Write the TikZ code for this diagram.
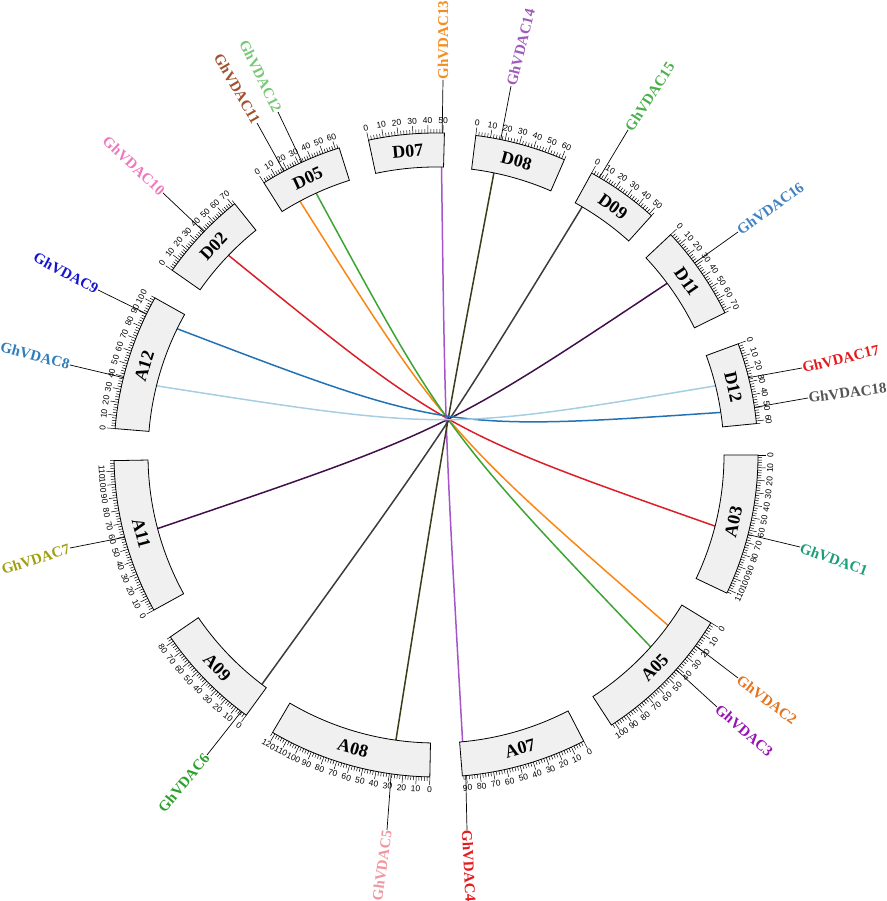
\documentclass[tikz,border=0pt]{standalone}
\usepackage{fontspec}
\setmainfont{Liberation Serif}
\setsansfont{Liberation Sans}
\definecolor{boxfill}{RGB}{240,240,240}
\definecolor{gc1}{RGB}{27,158,119}
\definecolor{gc2}{RGB}{230,115,30}
\definecolor{gc3}{RGB}{150,20,180}
\definecolor{gc4}{RGB}{228,26,28}
\definecolor{gc5}{RGB}{240,150,160}
\definecolor{gc6}{RGB}{44,160,44}
\definecolor{gc7}{RGB}{160,160,20}
\definecolor{gc8}{RGB}{45,125,190}
\definecolor{gc9}{RGB}{20,20,210}
\definecolor{gc10}{RGB}{240,120,190}
\definecolor{gc11}{RGB}{160,82,45}
\definecolor{gc12}{RGB}{120,200,120}
\definecolor{gc13}{RGB}{245,140,30}
\definecolor{gc14}{RGB}{160,90,190}
\definecolor{gc15}{RGB}{75,175,75}
\definecolor{gc16}{RGB}{65,130,195}
\definecolor{gc17}{RGB}{228,26,28}
\definecolor{gc18}{RGB}{85,85,85}
\definecolor{lkred}{RGB}{220,30,40}
\definecolor{lkorange}{RGB}{250,135,20}
\definecolor{lkgreen}{RGB}{60,165,50}
\definecolor{lkpurple}{RGB}{165,85,200}
\definecolor{lkolive}{RGB}{60,60,25}
\definecolor{lkgray}{RGB}{60,60,60}
\definecolor{lkdpurple}{RGB}{65,15,75}
\definecolor{lkblue}{RGB}{35,115,180}
\definecolor{lklblue}{RGB}{166,206,227}
\begin{document}
\begin{tikzpicture}[x=1pt,y=1pt,
  chrbox/.style={draw=black, line width=0.8pt, fill=boxfill},
  tickline/.style={line width=0.5pt},
  ticklab/.style={font=\sffamily\fontsize{8.5}{8.5}\selectfont, inner sep=0.3pt},
  chrname/.style={font=\bfseries\fontsize{18}{18}\selectfont, inner sep=0pt},
  genelab/.style={font=\bfseries\fontsize{15}{15}\selectfont, inner sep=0.5pt},
  markline/.style={line width=0.7pt},
  link/.style={line width=1.5pt}]
\useasboundingbox (0,0) rectangle (886,901);
\coordinate (O) at (436,446);
\begin{scope}[shift={(O)}]
\coordinate (C) at (9,24);
% gene anchors
\foreach \i/\ang/\lx/\ly/\rot/\anc in {
  1/-14.3/800/354/-20/west,
  2/-36.3/738/223/-37/west,
  3/-41.8/717/194/-41/west,
  4/-84.7/467/71/-87/west,
  5/-98.0/387/71/82/east,
  6/-127.2/207/146/50/east,
  7/-165.2/70/353/18/east,
  8/166.1/70/536/-15/east,
  9/154.0/98/611/-28/east,
  10/136.1/163/708/-43/east,
  11/118.2/257/778/-60/east,
  12/114.6/278/789/-64/east,
  13/88.9/443/821/90/west,
  14/78.4/511/815/76/west,
  15/59.5/628/771/57/west,
  16/36.6/738/669/36/west,
  17/13.9/802/533/13.5/west,
  18/8.5/808/503/7.4/west}{
  \coordinate (g\i o) at (\ang:322);
  \coordinate (g\i i) at (\ang:288);
  \coordinate (g\i l) at (\lx-436,\ly-446);
  \draw[markline] (g\i o) -- (g\i l);
  \node[genelab, text=gc\i, rotate=\rot, anchor=\anc] (lab\i) at (g\i l) {GhVDAC\i};
}
% links
\draw[link, lkred] (g10i) .. controls (C) and (C) .. (g1i);
\draw[link, lkorange] (g11i) .. controls (C) and (C) .. (g2i);
\draw[link, lkgreen] (g12i) .. controls (C) and (C) .. (g3i);
\draw[link, lkpurple] (g13i) .. controls (C) and (C) .. (g4i);
\draw[link, lkolive] (g14i) .. controls (C) and (C) .. (g5i);
\draw[link, lkgray] (g15i) .. controls (C) and (C) .. (g6i);
\draw[link, lkdpurple] (g16i) .. controls (C) and (C) .. (g7i);
\draw[link, lkblue] (g9i) .. controls (C) and (C) .. (g18i);
\draw[link, lklblue] (g8i) .. controls (C) and (C) .. (g17i);
% chromosomes
\foreach \nm/\aa/\ab/\L in {D02/145.0/128.7/72, D05/122.3/107.5/63,
  D07/102.1/88.5/51, D08/82.9/66.5/62, D09/61.1/48.0/52, D11/43.2/26.2/72,
  D12/20.2/5.6/62, A03/0/-25.4/113, A05/-31.4/-57.0/103, A07/-62.7/-85.3/93,
  A08/-91.1/-120.5/122, A09/-126.1/-145.6/84, A11/-151.2/-179.0/118,
  A12/175.3/150.8/104}{
  \draw[chrbox] (\aa:288) arc[start angle=\aa, end angle=\ab, radius=288]
     -- (\ab:322) arc[start angle=\ab, end angle=\aa, radius=322] -- cycle;
  \pgfmathsetmacro\am{(\aa+\ab)/2}
  \pgfmathsetmacro\rr{\am>0 ? \am-90 : \am+90}
  \node[chrname, rotate=\rr] (n\nm) at (\am:305) {\nm};
  \pgfmathtruncatemacro\Lt{\L}
  \foreach \p in {0,2,...,\Lt}{
    \pgfmathsetmacro\ang{\aa+(\ab-\aa)*\p/\L}
    \pgfmathtruncatemacro\ismaj{mod(\p,10)==0 ? 1 : 0}
    \ifnum\ismaj=1
      \draw[tickline] (\ang:322) -- (\ang:330);
      \pgfmathsetmacro\rot{\ang>0 ? \ang-90 : \ang+90}
      \ifdim \ang pt>0pt
        \node[ticklab, rotate=\rot, anchor=south] (t\nm-\p) at (\ang:331) {\p};
      \else
        \node[ticklab, rotate=\rot, anchor=north] (t\nm-\p) at (\ang:331) {\p};
      \fi
    \else
      \draw[tickline] (\ang:322) -- (\ang:326);
    \fi
  }
}
\end{scope}
\end{tikzpicture}
\end{document}
